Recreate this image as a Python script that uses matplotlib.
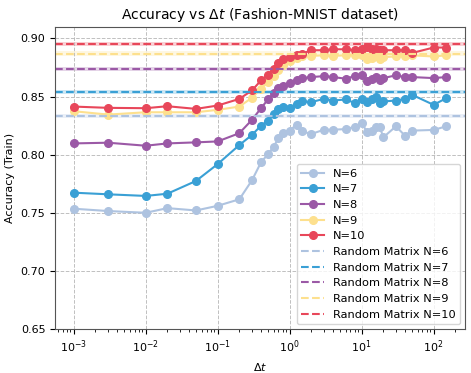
import numpy as np
import matplotlib
matplotlib.use("Agg")
import matplotlib.pyplot as plt

# time steps (shared by all runs)
dt = [0.001, 0.003, 0.01, 0.02, 0.05, 0.1, 0.2, 0.3, 0.4, 0.5, 0.6, 0.7, 0.8, 1.0,
      1.25, 1.5, 2, 3, 4, 6, 8, 10, 12, 14, 16, 18, 20, 30, 40, 50, 100, 150]

acc_n6 = [0.7535, 0.7515, 0.750, 0.754, 0.752, 0.756, 0.7616, 0.778, 0.7934, 0.8005,
          0.8068, 0.8144, 0.8187, 0.8207, 0.8259, 0.820, 0.8178, 0.8215, 0.8215, 0.822,
          0.8239, 0.8273, 0.8192, 0.8207, 0.8235, 0.8235, 0.8149, 0.8244, 0.8164, 0.8207,
          0.8213, 0.8244]
acc_n7 = [0.7673, 0.7659, 0.7645, 0.7664, 0.7774, 0.7919, 0.8083, 0.817, 0.825, 0.8293,
          0.8351, 0.8394, 0.8408, 0.8403, 0.8438, 0.846, 0.8452, 0.8481, 0.8466, 0.8475,
          0.8446, 0.8481, 0.8452, 0.8481, 0.8495, 0.8443, 0.8458, 0.8466, 0.8481, 0.8516,
          0.8429, 0.8486]
acc_n8 = [0.8097, 0.8103, 0.8077, 0.8097, 0.8106, 0.8114, 0.8185, 0.830, 0.840, 0.8475,
          0.853, 0.857, 0.8595, 0.862, 0.8645, 0.8659, 0.8668, 0.8676, 0.8668, 0.8654,
          0.8676, 0.8683, 0.8631, 0.8654, 0.8668, 0.8639, 0.8659, 0.8683, 0.8668, 0.8668,
          0.8659, 0.8668]
acc_n9 = [0.8374, 0.8345, 0.8365, 0.8365, 0.8365, 0.8386, 0.8414, 0.849, 0.8567, 0.8625,
          0.868, 0.8725, 0.877, 0.881, 0.8835, 0.8845, 0.885, 0.8855, 0.885, 0.8855,
          0.886, 0.8855, 0.882, 0.8835, 0.8845, 0.882, 0.884, 0.8845, 0.885, 0.8855,
          0.8845, 0.8855]
acc_n10 = [0.8414, 0.8403, 0.840, 0.8417, 0.8394, 0.8423, 0.848, 0.8553, 0.8639, 0.8689,
           0.874, 0.879, 0.882, 0.884, 0.8855, 0.887, 0.8899, 0.8899, 0.8907, 0.8907,
           0.8899, 0.8913, 0.8927, 0.8913, 0.8907, 0.8899, 0.8899, 0.8899, 0.8899, 0.8875,
           0.8922, 0.8922]

# random matrix baselines (mean, std)
rm_mean = [0.833, 0.8538, 0.8737, 0.887, 0.895]
rm_std = [0.0018, 0.0018, 0.0018, 0.0018, 0.0018]

labels = ['N=6', 'N=7', 'N=8', 'N=9', 'N=10']
colors = ['#aec3e0', '#3aa0d5', '#9b59a6', '#fde08e', '#e8475a']
series = [acc_n6, acc_n7, acc_n8, acc_n9, acc_n10]

fig = plt.figure(figsize=(4.71, 3.73), dpi=100)
ax = fig.add_axes([0.117, 0.118, 0.870, 0.810])

for acc, lab, c in zip(series, labels, colors):
    ax.plot(dt, acc, marker='o', markersize=5.5, linewidth=1.5, color=c, label=lab)

for m, s, lab, c in zip(rm_mean, rm_std, labels, colors):
    ax.axhline(m, color=c, linestyle='--', linewidth=1.5, label='Random Matrix ' + lab)
    ax.axhspan(m - s, m + s, color=c, alpha=0.25, linewidth=0)

ax.set_xscale('log')
ax.set_ylim(0.65, 0.91)
ax.set_yticks([0.65, 0.70, 0.75, 0.80, 0.85, 0.90])
ax.grid(True, linestyle='--', color='#b0b0b0', linewidth=0.7, alpha=0.8)
ax.tick_params(labelsize=8)
for sp in ax.spines.values():
    sp.set_color('#555555')
ax.set_xlabel(r'$\Delta t$', fontsize=8)
ax.set_ylabel('Accuracy (Train)', fontsize=8)
ax.set_title(r'Accuracy vs $\Delta t$ (Fashion-MNIST dataset)', fontsize=10)
ax.legend(loc='lower right', fontsize=8.2, borderaxespad=0.4)

fig.savefig('out.png', dpi=100)
